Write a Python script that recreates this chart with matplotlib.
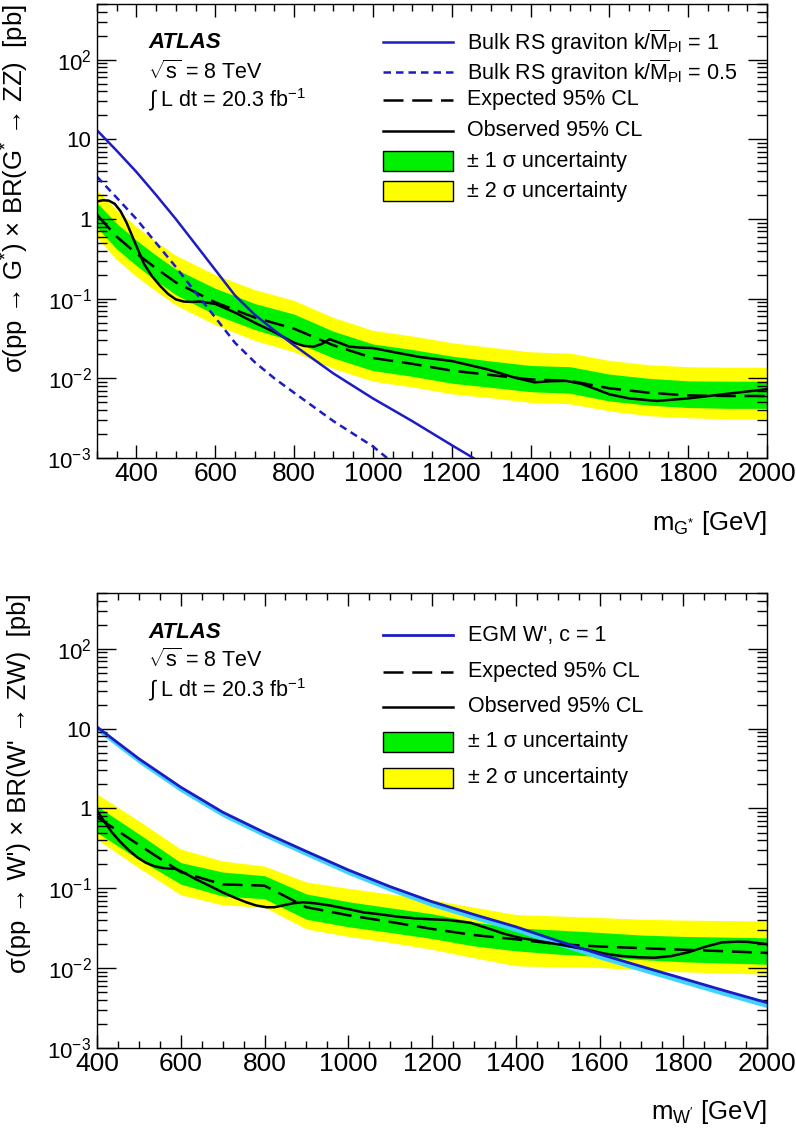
import numpy as np
import matplotlib
matplotlib.use("Agg")
import matplotlib.pyplot as plt
from matplotlib.ticker import FixedLocator, MultipleLocator, FuncFormatter, NullFormatter
from matplotlib.patches import Rectangle
from matplotlib.lines import Line2D

plt.rcParams["font.family"] = ["Liberation Sans", "DejaVu Sans"]
plt.rcParams["mathtext.fontset"] = "custom"
plt.rcParams["mathtext.rm"] = "Liberation Sans"
plt.rcParams["mathtext.it"] = "Liberation Sans:italic"
plt.rcParams["mathtext.bf"] = "Liberation Sans:bold"
plt.rcParams["mathtext.default"] = "regular"

# ---- top panel: G* -> ZZ ----
G_MASS = [300, 350, 400, 450, 500, 600, 700, 800, 900, 1000, 1100, 1200, 1300,
          1400, 1500, 1600, 1700, 1800, 1900, 2000]
G_EXP = [1.13, 0.60, 0.37, 0.24, 0.16, 0.09, 0.058, 0.042, 0.026, 0.018, 0.0152,
         0.0125, 0.011, 0.0097, 0.0093, 0.0075, 0.0066, 0.0061, 0.0060, 0.0060]
G_1S_UP = [1.6, 0.88, 0.54, 0.35, 0.235, 0.135, 0.087, 0.064, 0.039, 0.027, 0.023,
           0.019, 0.0165, 0.0145, 0.014, 0.0113, 0.0100, 0.0093, 0.0092, 0.0092]
G_1S_DN = [0.78, 0.42, 0.26, 0.168, 0.112, 0.063, 0.041, 0.029, 0.018, 0.0125, 0.0106,
           0.0087, 0.0077, 0.0068, 0.0065, 0.0052, 0.0046, 0.0043, 0.0042, 0.0042]
G_2S_UP = [2.3, 1.3, 0.80, 0.52, 0.35, 0.20, 0.13, 0.095, 0.058, 0.040, 0.034,
           0.028, 0.0245, 0.0215, 0.0207, 0.0168, 0.0148, 0.0140, 0.0138, 0.0138]
G_2S_DN = [0.58, 0.31, 0.19, 0.124, 0.083, 0.047, 0.030, 0.0215, 0.0133, 0.0092, 0.0078,
           0.0064, 0.0057, 0.0050, 0.0048, 0.0039, 0.0034, 0.0032, 0.0031, 0.0031]

G_OBS_MASS = [300, 315, 330, 345, 360, 375, 390, 405, 420, 440, 460, 480, 500, 520, 540,
              560, 600, 650, 700, 750, 800, 825, 850, 870, 890, 915, 940, 970, 1000, 1060,
              1120, 1200, 1290, 1360, 1410, 1450, 1490, 1530, 1570, 1600, 1650, 1720,
              1800, 1900, 2000]
G_OBS = [1.66, 1.72, 1.70, 1.55, 1.25, 0.9, 0.6, 0.4, 0.27, 0.19, 0.145, 0.115, 0.098,
         0.092, 0.091, 0.092, 0.086, 0.067, 0.05, 0.038, 0.028, 0.0255, 0.025, 0.027,
         0.031, 0.028, 0.025, 0.0243, 0.024, 0.021, 0.0185, 0.0165, 0.013, 0.0102,
         0.0089, 0.0092, 0.0093, 0.0085, 0.0072, 0.0063, 0.0056, 0.0052, 0.0056, 0.0064,
         0.0073]

RS_MASS = [300, 350, 400, 450, 500, 550, 600, 650, 700, 750, 800, 900, 1000, 1100, 1200, 1255]
RS_K1 = [13.0, 7.2, 3.9, 2.0, 1.0, 0.48, 0.23, 0.11, 0.063, 0.040, 0.026, 0.0115, 0.0056,
         0.0029, 0.00145, 0.001]
RS_K05_MASS = [300, 350, 400, 450, 500, 550, 600, 650, 700, 750, 800, 900, 1000, 1036]
RS_K05 = [3.4, 1.85, 1.0, 0.5, 0.25, 0.12, 0.058, 0.028, 0.016, 0.010, 0.0066, 0.0029,
          0.0014, 0.001]

# ---- bottom panel: W' -> ZW ----
W_MASS = [400, 500, 600, 700, 800, 900, 1000, 1100, 1200, 1300, 1400, 1500, 1600, 1700,
          1800, 1900, 2000]
W_EXP = [0.78, 0.35, 0.16, 0.112, 0.108, 0.058, 0.046, 0.038, 0.031, 0.026, 0.023, 0.020,
         0.0187, 0.0178, 0.017, 0.0163, 0.0155]
W_1S_UP = [1.07, 0.48, 0.21, 0.16, 0.144, 0.085, 0.068, 0.057, 0.048, 0.038, 0.032, 0.030,
           0.028, 0.026, 0.025, 0.0245, 0.024]
W_1S_DN = [0.50, 0.23, 0.113, 0.08, 0.074, 0.041, 0.033, 0.028, 0.0235, 0.019, 0.0165,
           0.015, 0.014, 0.0128, 0.012, 0.0116, 0.0112]
W_2S_UP = [1.52, 0.70, 0.31, 0.22, 0.19, 0.12, 0.10, 0.085, 0.072, 0.058, 0.047, 0.045,
           0.043, 0.041, 0.040, 0.0395, 0.039]
W_2S_DN = [0.41, 0.18, 0.083, 0.062, 0.058, 0.031, 0.025, 0.021, 0.0172, 0.0135, 0.0107,
           0.0104, 0.0102, 0.0095, 0.009, 0.0087, 0.0084]

W_OBS_MASS = [400, 418, 436, 456, 476, 496, 516, 536, 556, 572, 588, 610, 636, 668, 700,
              730, 756, 780, 804, 824, 844, 868, 892, 920, 956, 1000, 1036, 1080, 1120,
              1160, 1195, 1240, 1292, 1330, 1372, 1410, 1452, 1510, 1572, 1612, 1652,
              1692, 1732, 1772, 1812, 1852, 1892, 1930, 1956, 2000]
W_OBS = [0.94, 0.68, 0.50, 0.38, 0.30, 0.245, 0.21, 0.19, 0.18, 0.177, 0.175, 0.155, 0.13,
         0.108, 0.089, 0.076, 0.067, 0.061, 0.058, 0.058, 0.061, 0.065, 0.067, 0.065,
         0.061, 0.055, 0.050, 0.047, 0.044, 0.042, 0.041, 0.040, 0.037, 0.032, 0.027,
         0.024, 0.022, 0.0195, 0.017, 0.0152, 0.0142, 0.0137, 0.0135, 0.0142, 0.0158,
         0.0185, 0.021, 0.0215, 0.0213, 0.020]

EGM_MASS = [400, 500, 600, 700, 800, 900, 1000, 1100, 1200, 1300, 1400, 1500, 1600, 1700,
            1800, 1900, 2000]
EGM = [10.5, 4.2, 1.85, 0.9, 0.5, 0.29, 0.17, 0.105, 0.068, 0.047, 0.033, 0.022, 0.015,
       0.0105, 0.0074, 0.0052, 0.0037]
EGM_UP = [10.8, 4.3, 1.9, 0.93, 0.515, 0.30, 0.175, 0.108, 0.070, 0.0485, 0.034, 0.0227,
          0.0155, 0.0108, 0.0076, 0.0054, 0.0038]
EGM_DN = [9.3, 3.7, 1.62, 0.79, 0.44, 0.255, 0.149, 0.092, 0.059, 0.041, 0.0288, 0.0192,
          0.013, 0.0091, 0.0064, 0.0045, 0.0032]

BLUE = "#1c1cc4"
CYAN = "#3fd4ff"
GREEN = "#00f000"
YELLOW = "#ffff00"
FS = 15.5        # legend / ATLAS text
FS_XTICK = 19
FS_YTICK = 16
FS_TITLE = 18.5

W, H = 796, 1128
fig = plt.figure(figsize=(W / 100, H / 100), dpi=100)


def fx(px):
    return px / W


def fy(py):
    return 1 - py / H


def log_label(v, pos):
    e = int(round(np.log10(v)))
    if e == 0:
        return "1"
    if e == 1:
        return "10"
    return "10$^{%d}$" % e


def style_axes(ax, xmin, xmax):
    ax.set_yscale("log")
    ax.set_xlim(xmin, xmax)
    ax.set_ylim(1e-3, 500)
    ax.xaxis.set_major_locator(FixedLocator(np.arange(400, 2001, 200)))
    ax.xaxis.set_minor_locator(MultipleLocator(50))
    ax.yaxis.set_major_locator(FixedLocator([1e-3, 1e-2, 1e-1, 1, 10, 100]))
    minors = [k * 10.0 ** e for e in range(-3, 3) for k in range(2, 10)]
    ax.yaxis.set_minor_locator(FixedLocator(minors))
    ax.yaxis.set_major_formatter(FuncFormatter(log_label))
    ax.yaxis.set_minor_formatter(NullFormatter())
    ax.tick_params(axis="both", which="both", direction="in", top=True, right=True,
                   width=1.0)
    ax.tick_params(axis="x", which="major", length=9.5, labelsize=FS_XTICK, pad=3)
    ax.tick_params(axis="x", which="minor", length=5)
    ax.tick_params(axis="y", which="major", length=14, labelsize=FS_YTICK, pad=4)
    ax.tick_params(axis="y", which="minor", length=7)
    for s in ax.spines.values():
        s.set_linewidth(1.0)


def draw_legend(entries, x0, x1, xt, rows):
    for (kind, style, label), py in zip(entries, rows):
        if kind == "box":
            fig.add_artist(Rectangle((fx(x0), fy(py + 10)), fx(x1) - fx(x0), fy(py - 10) - fy(py + 10),
                                     transform=fig.transFigure, facecolor=style,
                                     edgecolor="black", lw=1.0))
        else:
            fig.add_artist(Line2D([fx(x0), fx(x1)], [fy(py), fy(py)],
                                  transform=fig.transFigure, **style))
        fig.text(fx(xt), fy(py), label, fontsize=FS, va="center", ha="left")


def atlas_label(py0, py1, py2):
    fig.text(fx(148), fy(py0), "ATLAS", fontsize=16, fontweight="bold",
             fontstyle="italic", va="center")
    fig.text(fx(148), fy(py1), r"$\sqrt{s}$ = 8 TeV", fontsize=FS, va="center")
    fig.text(fx(148), fy(py2), r"$\int$ L dt = 20.3 fb$^{-1}$", fontsize=FS, va="center")


dash_style = dict(color="black", lw=1.8, linestyle=(0, (8, 3.5)))
obs_style = dict(color="black", lw=1.8)

# top panel
ax1 = fig.add_axes([fx(97), fy(458), fx(767) - fx(97), fy(4) - fy(458)])
ax1.fill_between(G_MASS, G_2S_DN, G_2S_UP, color=YELLOW, lw=0)
ax1.fill_between(G_MASS, G_1S_DN, G_1S_UP, color=GREEN, lw=0)
ax1.plot(G_MASS, G_EXP, **dash_style)
ax1.plot(G_OBS_MASS, G_OBS, **obs_style)
ax1.plot(RS_MASS, RS_K1, color=BLUE, lw=1.8)
ax1.plot(RS_K05_MASS, RS_K05, color=BLUE, lw=1.8, linestyle=(0, (3, 2)))
style_axes(ax1, 300, 2000)
ax1.set_ylabel(r"σ(pp → G$^{*}$) × BR(G$^{*}$ → ZZ)  [pb]", fontsize=FS_TITLE, loc="top")
ax1.yaxis.set_label_coords(-0.098, 1.0)
ax1.set_xlabel(r"m$_{G^{*}}$ [GeV]", fontsize=FS_TITLE, loc="right", va="top")
ax1.xaxis.set_label_coords(1.0, -0.112)

atlas_label(43, 72, 100)
draw_legend([
    ("line", dict(color=BLUE, lw=1.8), r"Bulk RS graviton k/$\overline{M}_{Pl}$ = 1"),
    ("line", dict(color=BLUE, lw=1.8, linestyle=(0, (3, 2))), r"Bulk RS graviton k/$\overline{M}_{Pl}$ = 0.5"),
    ("line", dash_style, "Expected 95% CL"),
    ("line", obs_style, "Observed 95% CL"),
    ("box", GREEN, "± 1 σ uncertainty"),
    ("box", YELLOW, "± 2 σ uncertainty"),
], 383, 453, 467, [42, 72, 100, 131, 161, 191])

# bottom panel
ax2 = fig.add_axes([fx(97), fy(1048), fx(767) - fx(97), fy(593) - fy(1048)])
ax2.fill_between(W_MASS, W_2S_DN, W_2S_UP, color=YELLOW, lw=0)
ax2.fill_between(W_MASS, W_1S_DN, W_1S_UP, color=GREEN, lw=0)
ax2.plot(W_MASS, W_EXP, **dash_style)
ax2.plot(W_OBS_MASS, W_OBS, **obs_style)
ax2.fill_between(EGM_MASS, EGM_DN, EGM_UP, color=CYAN, lw=0)
ax2.plot(EGM_MASS, EGM, color=BLUE, lw=2.0)
style_axes(ax2, 400, 2000)
ax2.set_ylabel(r"σ(pp → W') × BR(W' → ZW)  [pb]", fontsize=FS_TITLE, loc="top")
ax2.yaxis.set_label_coords(-0.098, 1.0)
ax2.set_xlabel(r"m$_{W'}$ [GeV]", fontsize=FS_TITLE, loc="right", va="top")
ax2.xaxis.set_label_coords(1.0, -0.11)

atlas_label(632, 660, 690)
draw_legend([
    ("line", dict(color=BLUE, lw=2.0), "EGM W', c = 1"),
    ("line", dash_style, "Expected 95% CL"),
    ("line", obs_style, "Observed 95% CL"),
    ("box", GREEN, "± 1 σ uncertainty"),
    ("box", YELLOW, "± 2 σ uncertainty"),
], 383, 453, 468, [635, 672, 707, 742, 778])

fig.savefig("out.png", dpi=100)
